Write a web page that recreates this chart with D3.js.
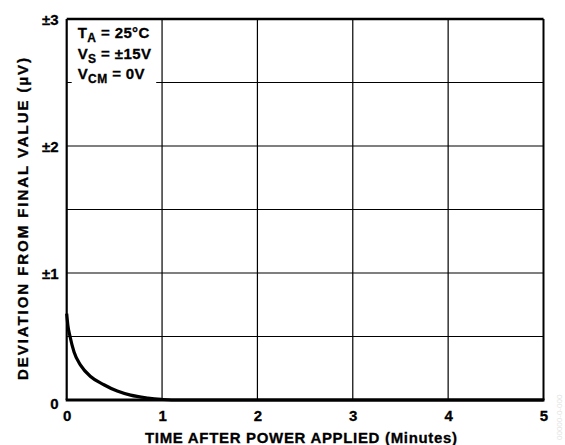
<!DOCTYPE html>
<html>
<head>
<meta charset="utf-8">
<script src="https://cdn.jsdelivr.net/npm/d3@7"></script>
<style>
  body { margin: 0; background: #fff; }
  svg { font-family: Arial, "Liberation Sans", sans-serif; font-weight: bold; }
  .tick-label { font-size: 15px; fill: #000; stroke: #000; stroke-width: 0.3px; }
  .axis-tag { font-size: 15px; fill: #000; stroke: #000; stroke-width: 0.3px; }
  .legend { font-size: 15px; fill: #000; letter-spacing: 0.4px; stroke: #000; stroke-width: 0.3px; }
</style>
</head>
<body>
<div id="chart"></div>
<script>
// data
let minutes = [0, 0.012, 0.035, 0.077, 0.147, 0.25, 0.39, 0.53, 0.67, 0.85, 0.99, 1.1, 2, 3, 4, 5];
let deviation = [0.68, 0.59, 0.5, 0.378, 0.273, 0.185, 0.12, 0.07, 0.038, 0.016, 0.005, 0, 0, 0, 0, 0];
let x_ticks = [0, 1, 2, 3, 4, 5];
let x_tick_labels = ["0", "1", "2", "3", "4", "5"];
let y_ticks = [0, 1, 2, 3];
let y_tick_labels = ["0", "±1", "±2", "±3"];
let y_grid = [0.5, 1, 1.5, 2, 2.5];
let legend_lines = [["T", "A", " = 25°C"], ["V", "S", " = ±15V"], ["V", "CM", " = 0V"]];

let total_width = 565;
let total_height = 445;
let plot = {left: 66.7, right: 543.5, top: 19, bottom: 400};

var x = d3.scaleLinear().domain([0, 5]).range([plot.left, plot.right]);
var y = d3.scaleLinear().domain([0, 3]).range([plot.bottom, plot.top]);

var svg = d3.select("#chart").append("svg")
    .attr("width", total_width)
    .attr("height", total_height);

// grid
svg.append("g").selectAll("line").data(x_ticks.slice(1, -1)).enter().append("line")
    .attr("x1", d => x(d)).attr("x2", d => x(d))
    .attr("y1", plot.top).attr("y2", plot.bottom)
    .attr("stroke", "#000").attr("stroke-width", 1.2);
svg.append("g").selectAll("line").data(y_grid).enter().append("line")
    .attr("x1", plot.left).attr("x2", plot.right)
    .attr("y1", d => y(d)).attr("y2", d => y(d))
    .attr("stroke", "#000").attr("stroke-width", 1.2);

// legend box covers the grid (leaves a small stub at the left edge)
svg.append("rect")
    .attr("x", plot.left + 5).attr("y", plot.top + 2)
    .attr("width", 84.5).attr("height", 67)
    .attr("fill", "#fff");

let legend = svg.append("g").attr("class", "legend");
legend_lines.forEach((l, i) => {
  let t = legend.append("text")
    .attr("x", plot.left + 11)
    .attr("y", 38 + i * 20.5);
  t.append("tspan").text(l[0]);
  t.append("tspan").attr("dy", 4).attr("font-size", "12px").text(l[1]);
  t.append("tspan").attr("dy", -4).text(l[2]);
});

// frame
svg.append("line").attr("x1", plot.left).attr("x2", plot.right)
    .attr("y1", plot.top).attr("y2", plot.top)
    .attr("stroke", "#000").attr("stroke-width", 2.3);
svg.append("line").attr("x1", plot.right).attr("x2", plot.right)
    .attr("y1", plot.top).attr("y2", plot.bottom)
    .attr("stroke", "#000").attr("stroke-width", 2);
svg.append("line").attr("x1", plot.left).attr("x2", plot.left)
    .attr("y1", plot.top).attr("y2", plot.bottom)
    .attr("stroke", "#000").attr("stroke-width", 2.2);
svg.append("line").attr("x1", plot.left - 1).attr("x2", plot.right + 1)
    .attr("y1", plot.bottom).attr("y2", plot.bottom)
    .attr("stroke", "#000").attr("stroke-width", 3);

// curve
let pts = minutes.map((m, i) => [m, deviation[i]]);
svg.append("path")
    .datum(pts)
    .attr("fill", "none")
    .attr("stroke", "#000")
    .attr("stroke-width", 3.2)
    .attr("d", d3.line().x(d => x(d[0])).y(d => y(d[1])).curve(d3.curveMonotoneX));

// tick labels
svg.append("g").selectAll("text").data(x_ticks).enter().append("text")
    .attr("class", "tick-label")
    .attr("x", d => x(d) + 0.5)
    .attr("y", plot.bottom + 20.5)
    .attr("text-anchor", "middle")
    .text((d, i) => x_tick_labels[i]);
svg.append("g").selectAll("text").data(y_ticks).enter().append("text")
    .attr("class", "tick-label")
    .attr("x", plot.left - 8)
    .attr("y", d => y(d) + (d === 0 ? 8.5 : 6))
    .attr("text-anchor", "end")
    .text((d, i) => y_tick_labels[i]);

// axis titles
svg.append("text")
    .attr("class", "axis-tag")
    .attr("x", 145)
    .attr("y", 442.5)
    .attr("textLength", 312)
    .attr("lengthAdjust", "spacing")
    .text("TIME AFTER POWER APPLIED (Minutes)");
svg.append("text")
    .attr("class", "axis-tag")
    .attr("transform", "translate(27.5,380) rotate(-90)")
    .attr("textLength", 322)
    .attr("lengthAdjust", "spacing")
    .text("DEVIATION FROM FINAL VALUE (µV)");

// faint figure id
svg.append("text")
    .attr("transform", "translate(562,440) rotate(-90)")
    .attr("font-size", "8px")
    .attr("font-weight", "normal")
    .attr("fill", "#e4e4e4")
    .text("00000-0-000");
</script>
</body>
</html>
